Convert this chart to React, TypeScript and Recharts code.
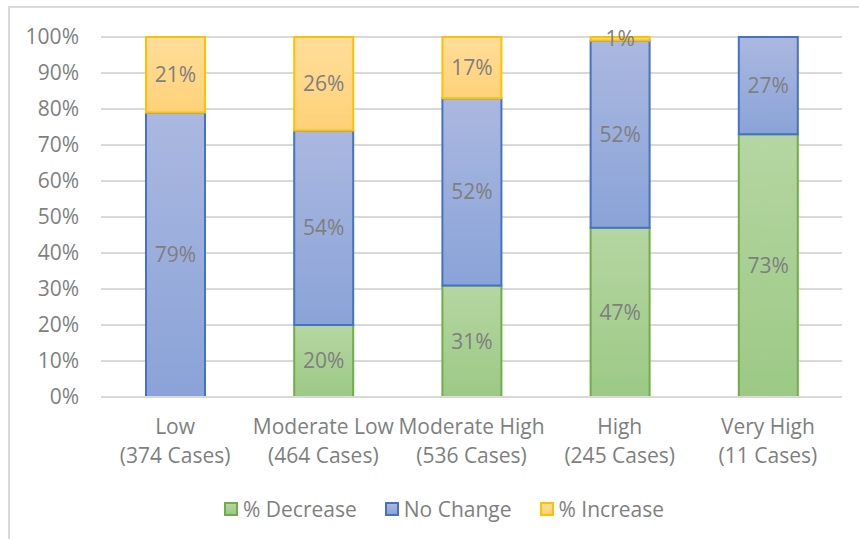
import { Bar, BarChart, CartesianGrid, LabelList, Legend, XAxis, YAxis } from "recharts";

const categories = ["Low", "Moderate Low", "Moderate High", "High", "Very High"];
const caseCounts = ["(374 Cases)", "(464 Cases)", "(536 Cases)", "(245 Cases)", "(11 Cases)"];
const decrease = [0, 20, 31, 47, 73];
const noChange = [79, 54, 52, 52, 27];
const increase = [21, 26, 17, 1, 0];
const yTicks = [0, 10, 20, 30, 40, 50, 60, 70, 80, 90, 100];

const FONT = "'Open Sans', sans-serif";
const TEXT = "#7f7f7f";
const SIZE = 21;

const series = [
  { key: "decrease", name: "% Decrease", stroke: "#70ad47", top: "#b5d6a2", bottom: "#9cc985" },
  { key: "noChange", name: "No Change", stroke: "#4472c4", top: "#abb8e0", bottom: "#8aa3d8" },
  { key: "increase", name: "% Increase", stroke: "#ffc000", top: "#ffdd9a", bottom: "#ffd278" },
];

const data = categories.map((c, i) => ({
  name: c,
  cases: caseCounts[i],
  decrease: decrease[i],
  noChange: noChange[i],
  increase: increase[i],
}));

function CategoryTick({ x, y, payload }: any) {
  const row = data[payload.index] ?? data.find((d) => d.name === payload.value);
  return (
    <g transform={`translate(${x},${y})`}>
      <text textAnchor="middle" fill={TEXT} fontSize={SIZE} fontFamily={FONT}>
        <tspan x={0} dy={29}>{payload.value}</tspan>
        <tspan x={0} dy={29}>{row?.cases}</tspan>
      </text>
    </g>
  );
}

function LegendContent() {
  return (
    <div
      style={{
        display: "flex",
        justifyContent: "center",
        gap: 28,
        fontFamily: FONT,
        fontSize: SIZE,
        color: TEXT,
        marginLeft: 46,
        paddingTop: 8,
      }}
    >
      {series.map((s) => (
        <div key={s.key} style={{ display: "flex", alignItems: "center" }}>
          <span
            style={{
              display: "inline-block",
              width: 10,
              height: 10,
              border: `2px solid ${s.stroke}`,
              background: `linear-gradient(${s.top}, ${s.bottom})`,
              marginRight: 5,
            }}
          />
          <span>{s.name}</span>
        </div>
      ))}
    </div>
  );
}

export default function App() {
  return (
    <div style={{ position: "absolute", left: 0, top: 0, width: 859, height: 539, background: "#fff", overflow: "hidden" }}>
      <div
        style={{
          position: "absolute",
          left: 8,
          top: 6,
          width: 900,
          height: 600,
          border: "2px solid #d9d9d9",
          boxSizing: "border-box",
        }}
      />
      <BarChart
        width={859}
        height={539}
        data={data}
        barSize={59}
        margin={{ top: 37, right: 17, bottom: 12, left: 0 }}
        style={{ position: "absolute", left: 0, top: 0 }}
      >
        <defs>
          {series.map((s) => (
            <linearGradient key={s.key} id={`grad-${s.key}`} x1="0" y1="0" x2="0" y2="1">
              <stop offset="0%" stopColor={s.top} />
              <stop offset="100%" stopColor={s.bottom} />
            </linearGradient>
          ))}
        </defs>
        <CartesianGrid vertical={false} stroke="#d9d9d9" strokeWidth={2} />
        <XAxis
          dataKey="name"
          interval={0}
          height={90}
          tickLine={false}
          axisLine={{ stroke: "#d9d9d9", strokeWidth: 2 }}
          tick={<CategoryTick />}
        />
        <YAxis
          type="number"
          domain={[0, 100]}
          ticks={yTicks}
          width={101}
          axisLine={false}
          tickLine={false}
          tickMargin={16}
          tickFormatter={(v) => `${v}%`}
          tick={{ fill: TEXT, fontSize: SIZE, fontFamily: FONT }}
        />
        {series.map((s) => (
          <Bar
            key={s.key}
            dataKey={s.key}
            name={s.name}
            stackId="a"
            fill={`url(#grad-${s.key})`}
            stroke={s.stroke}
            strokeWidth={2}
            isAnimationActive={false}
          >
            <LabelList
              dataKey={s.key}
              position="center"
              formatter={(v: any) => (Number(v) > 0 ? `${v}%` : "")}
              fill={TEXT}
              fontSize={SIZE}
              fontFamily={FONT}
            />
          </Bar>
        ))}
        <Legend verticalAlign="bottom" height={40} content={<LegendContent />} />
      </BarChart>
    </div>
  );
}
